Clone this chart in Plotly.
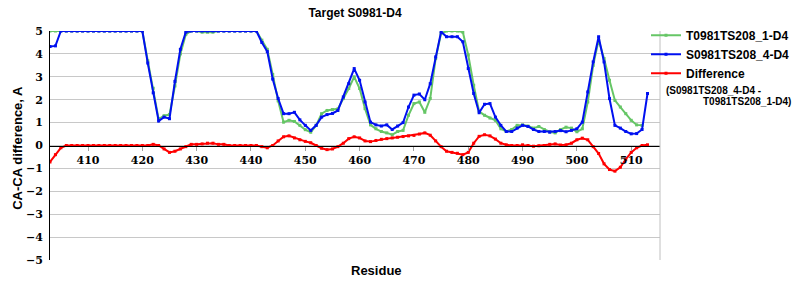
import plotly.graph_objects as go

residues = list(range(403, 514))
residues_green = list(range(403, 513))

# S0981TS208_4-D4 (blue)
s_values = [
    4.32, 4.35,
    5, 5, 5, 5, 5, 5, 5, 5, 5, 5, 5, 5, 5, 5, 5, 5,
    3.6, 2.3, 1.07, 1.24, 1.17, 2.8, 4.2, 4.95,
    5, 5, 5, 5, 5, 5, 5, 5, 5, 5, 5, 5, 5,
    4.5, 4.1, 2.9, 2.05, 1.39, 1.39, 1.45, 1.12, 0.88, 0.66,
    0.88, 1.24, 1.35, 1.4, 1.53, 2.12, 2.7, 3.36, 2.85, 1.9,
    1.02, 0.9, 0.85, 0.9, 0.7, 0.85, 1.0, 1.68, 2.2, 2.25,
    2.0, 2.7, 3.87, 4.97, 4.75, 4.75, 4.75, 4.53, 3.36, 2.27,
    1.43, 1.8, 1.83, 1.24, 0.88, 0.61, 0.61, 0.76, 0.88, 0.83,
    0.7, 0.61, 0.61, 0.58, 0.61, 0.65, 0.6, 0.66, 0.73, 1.02,
    2.34, 3.65, 4.75, 3.65, 2.05, 0.88, 0.76, 0.61, 0.51, 0.52,
    0.7, 2.27,
]

# T0981TS208_1-D4 (green)
t_values = [
    5, 5,
    5, 5, 5, 5, 5, 5, 5, 5, 5, 5, 5, 5, 5, 5, 5, 5,
    3.7, 2.5, 1.15, 1.3, 1.35, 2.6, 4.0, 4.85,
    5, 5, 4.95, 4.95, 4.95, 5, 5, 5, 5, 5, 5, 5, 5,
    4.6, 4.2, 3.1, 1.95, 1.02, 1.1, 1.05, 0.88, 0.69, 0.58,
    0.88, 1.39, 1.53, 1.57, 1.6, 2.05, 2.49, 3.0, 2.49, 1.61,
    0.9, 0.73, 0.61, 0.55, 0.47, 0.61, 0.66, 1.32, 1.83, 1.9,
    1.45, 2.05, 3.8, 4.9, 5, 5, 5, 4.95, 3.95, 2.63,
    1.49, 1.32, 1.2, 1.1, 0.73, 0.61, 0.7, 0.88, 0.9, 0.85,
    0.76, 0.83, 0.7, 0.6, 0.55, 0.7, 0.8, 0.76, 0.6, 0.73,
    1.9, 3.5, 4.6, 3.8, 2.85, 1.97, 1.68, 1.39, 1.1, 0.9,
    0.88,
]

# Difference (red)
diff_values = [
    -0.72, -0.4, -0.1,
    0, 0, 0, 0, 0, 0, 0, 0, 0, 0, 0, 0, 0, 0, 0, 0,
    0.05, 0.0, -0.15, -0.3, -0.25, -0.15, -0.05, 0.05, 0.05, 0.07,
    0.1, 0.1, 0.05, 0.05,
    0, 0, 0, 0, 0, 0,
    -0.05, -0.1, 0.0, 0.2, 0.38, 0.42, 0.33, 0.25, 0.18, 0.12,
    0.0, -0.12, -0.18, -0.15, -0.05, 0.1, 0.3, 0.38, 0.33, 0.2,
    0.17, 0.22, 0.27, 0.3, 0.33, 0.36, 0.39, 0.42, 0.44, 0.5,
    0.55, 0.45, 0.2, -0.05, -0.25, -0.3, -0.34, -0.4, -0.3, 0.1,
    0.4, 0.47, 0.42, 0.28, 0.1, 0.03, 0.0, 0.0, 0.03, 0.0,
    -0.03, -0.01, 0.0, 0.05, 0.07, 0.02, 0.03, 0.1, 0.25, 0.32,
    0.25, -0.05, -0.35, -0.8, -1.05, -1.12, -0.95, -0.6, -0.3, -0.1,
    0.0, 0.03,
]

x_ticks = [410, 420, 430, 440, 450, 460, 470, 480, 490, 500, 510]
y_ticks = [-5, -4, -3, -2, -1, 0, 1, 2, 3, 4, 5]
y_ticktext = ["\u22125", "\u22124", "\u22123", "\u22122", "\u22121", "0", "1", "2", "3", "4", "5"]

GREEN = "#66C666"
BLUE = "#0010F0"
RED = "#FF0000"

fig = go.Figure()
fig.add_trace(go.Scatter(x=residues_green, y=t_values, name="T0981TS208_1-D4",
                         mode="lines+markers", line=dict(color=GREEN, width=2),
                         marker=dict(color=GREEN, size=3, symbol="square")))
fig.add_trace(go.Scatter(x=residues, y=s_values, name="S0981TS208_4-D4",
                         mode="lines+markers", line=dict(color=BLUE, width=2),
                         marker=dict(color=BLUE, size=3, symbol="square")))
fig.add_trace(go.Scatter(x=residues, y=diff_values, name="Difference",
                         mode="lines+markers", line=dict(color=RED, width=2),
                         marker=dict(color=RED, size=3, symbol="square")))

sans = "Liberation Sans, Arial, sans-serif"
serif = "DejaVu Serif, serif"

fig.update_layout(
    width=800, height=300,
    margin=dict(l=50, r=140, t=31, b=40, autoexpand=False),
    paper_bgcolor="white", plot_bgcolor="white",
    title=dict(text="Target S0981-D4", x=0.5, xref="paper", xanchor="center",
               y=1 - 13 / 300, yref="container", yanchor="middle",
               font=dict(family=sans, size=12, color="black", weight="bold")),
    xaxis=dict(range=[403, 515.3], tickvals=x_ticks, showgrid=False, zeroline=False,
               anchor="free", position=0.5, showline=True, linecolor="black", linewidth=1,
               ticks="outside", ticklen=4, tickcolor="#a0a0a0",
               tickfont=dict(family=serif, size=11, color="black", weight="bold")),
    yaxis=dict(range=[-5, 5], tickvals=y_ticks, ticktext=y_ticktext, showgrid=True,
               gridcolor="#c8c8c8", gridwidth=1, zeroline=False, showline=True,
               linecolor="black", linewidth=1, ticks="", ticklabelstandoff=4,
               tickfont=dict(family=serif, size=11, color="black", weight="bold")),
    legend=dict(x=1.0 - 14 / 610, xanchor="left", y=1.045, yanchor="top",
                bgcolor="rgba(0,0,0,0)",
                font=dict(family=sans, size=12, color="black", weight="bold"),
                itemwidth=30, tracegroupgap=0),
    showlegend=True,
)

fig.add_shape(type="line", xref="paper", yref="paper", x0=1, x1=1, y0=0, y1=1,
              line=dict(color="#c0c0c0", width=1))

fig.add_annotation(text="CA-CA difference, A", xref="paper", yref="paper",
                   x=-32 / 610, y=0.49, textangle=-90, showarrow=False,
                   xanchor="center", yanchor="middle",
                   font=dict(family=sans, size=13, color="black", weight="bold"))
fig.add_annotation(text="Residue", xref="paper", yref="paper",
                   x=(376 - 50) / 610, y=-10 / 229, showarrow=False,
                   xanchor="center", yanchor="middle",
                   font=dict(family=sans, size=13, color="black", weight="bold"))
fig.add_annotation(text="(S0981TS208_4-D4 -", xref="paper", yref="paper",
                   x=(664 - 50) / 610, y=(260 - 91) / 229, showarrow=False,
                   xanchor="left", yanchor="middle",
                   font=dict(family=sans, size=10, color="black", weight="bold"))
fig.add_annotation(text="T0981TS208_1-D4)", xref="paper", yref="paper",
                   x=(701 - 50) / 610, y=(260 - 102) / 229, showarrow=False,
                   xanchor="left", yanchor="middle",
                   font=dict(family=sans, size=10, color="black", weight="bold"))

fig.write_html("out.html")
